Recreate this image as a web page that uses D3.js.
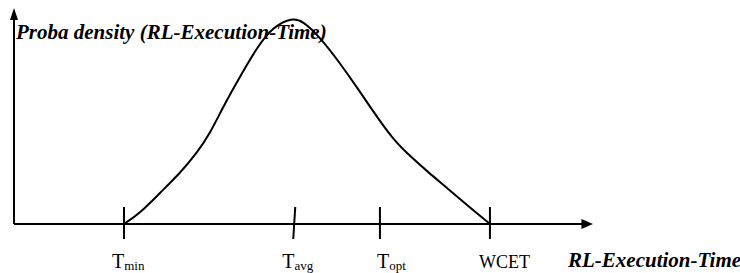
<!DOCTYPE html>
<html lang="en">
<head>
<meta charset="utf-8">
<title>Proba density</title>
<script src="https://d3js.org/d3.v7.min.js"></script>
<style>
    body { margin: 0; background: #fff; }
    text { font-family: "Liberation Serif", "Times New Roman", serif; fill: #000; }
    .bi { font-weight: bold; font-style: italic; }
</style>
</head>
<body>
<script>
// curve (time units 0..10, density 0..1)
var times = [1.90, 2.18, 2.52, 2.87, 3.16, 3.39, 3.61, 3.90, 4.20, 4.47, 4.80, 4.99, 5.28, 5.63, 5.92, 6.15, 6.55, 6.84, 7.13, 7.48, 7.82, 8.22];
var density = [0, 0.051, 0.144, 0.236, 0.329, 0.421, 0.542, 0.681, 0.819, 0.912, 0.955, 0.940, 0.866, 0.745, 0.634, 0.542, 0.389, 0.315, 0.245, 0.167, 0.088, 0];

var markNames = ["T", "T", "T", "WCET"];
var markSubs = ["min", "avg", "opt", ""];
var markTimes = [1.90, 4.84, 6.32, 8.22];

var yTitle = "Proba density (RL-Execution-Time)";
var xTitle = "RL-Execution-Time";

var w = 740, h = 273;

var svg = d3.select("body").append("svg")
    .attr("width", w)
    .attr("height", h);

var x = d3.scaleLinear().domain([0, 10]).range([14, 593]);
var y = d3.scaleLinear().domain([0, 1]).range([224, 8]);

// axes
svg.append("line")
    .attr("x1", x(0)).attr("y1", y(0))
    .attr("x2", x(9.82)).attr("y2", y(0))
    .attr("stroke", "#000").attr("stroke-width", 2);
svg.append("path")
    .attr("d", "M" + x(10) + "," + y(0) + "L" + x(9.8) + "," + (y(0) - 5) + "L" + x(9.8) + "," + (y(0) + 5) + "Z")
    .attr("fill", "#000");

svg.append("line")
    .attr("x1", x(0)).attr("y1", y(0))
    .attr("x2", x(0)).attr("y2", y(0.95))
    .attr("stroke", "#000").attr("stroke-width", 2);
svg.append("path")
    .attr("d", "M" + x(0) + "," + y(1) + "L" + (x(0) - 4) + "," + (y(1) + 12) + "L" + (x(0) + 4) + "," + (y(1) + 12) + "Z")
    .attr("fill", "#000");

// ticks
var labelDx = [-12, -12, -3, -11];
markTimes.forEach(function(t, i) {
    svg.append("line")
        .attr("x1", x(t) + (i == 1 ? 1 : 0)).attr("y1", y(0) - 17)
        .attr("x2", x(t) - (i == 1 ? 1 : 0)).attr("y2", y(0) + 15)
        .attr("stroke", "#000").attr("stroke-width", 2);
    var lab = svg.append("text")
        .attr("x", x(t) + labelDx[i])
        .attr("y", 268)
        .attr("font-size", i == 3 ? "18px" : "20px");
    lab.append("tspan").text(markNames[i]);
    if (markSubs[i]) {
        lab.append("tspan")
            .attr("dy", 2)
            .attr("font-size", "13px")
            .text(markSubs[i]);
    }
});

// density curve
var pts = times.map(function(t, i) { return [t, density[i]]; });
var line = d3.line()
    .x(function(d) { return x(d[0]); })
    .y(function(d) { return y(d[1]); })
    .curve(d3.curveBasis);

// titles
svg.append("text")
    .attr("class", "bi")
    .attr("x", 16)
    .attr("y", 39)
    .attr("font-size", "21px")
    .text(yTitle);

svg.append("text")
    .attr("class", "bi")
    .attr("x", 568)
    .attr("y", 267)
    .attr("font-size", "21px")
    .text(xTitle);

svg.append("path")
    .datum(pts)
    .attr("d", line)
    .attr("fill", "none")
    .attr("stroke", "#000")
    .attr("stroke-width", 2);
</script>
</body>
</html>
